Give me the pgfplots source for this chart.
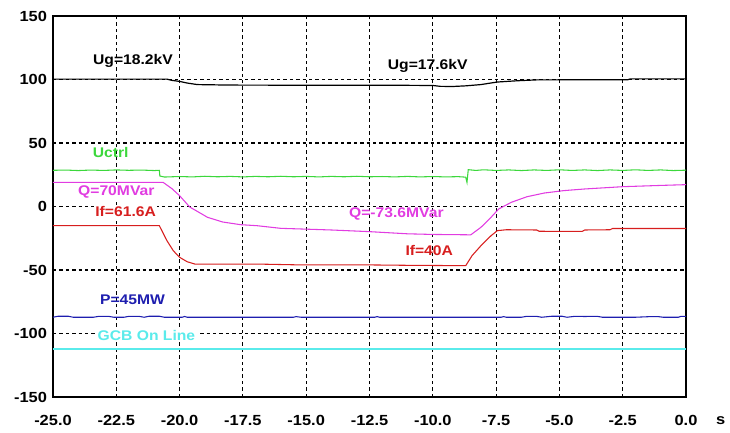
\documentclass[border=0pt]{standalone}
\usepackage{fontspec}
\setmainfont{Liberation Sans}[FakeStretch=1.12]
\usepackage{pgfplots}
\pgfplotsset{compat=1.18}
\definecolor{cgreen}{RGB}{60,215,60}
\definecolor{cmag}{RGB}{225,60,225}
\definecolor{cred}{RGB}{215,30,30}
\definecolor{cblue}{RGB}{30,30,175}
\definecolor{ccyan}{RGB}{90,235,235}
\begin{document}
\begin{tikzpicture}
\begin{axis}[
  name=ax,
  scale only axis,
  width=474.75pt, height=285.75pt,
  xmin=-25, xmax=0, ymin=-150, ymax=150,
  xtick={-25,-22.5,...,0}, ytick={-150,-100,...,150},
  /pgf/number format/assume math mode=true,
  ticklabel style={font=\bfseries\fontsize{11}{13}\selectfont, text=black},
  xticklabel style={yshift=-10pt, /pgf/number format/.cd, fixed, fixed zerofill, precision=1},
  yticklabel style={xshift=-1pt, /pgf/number format/.cd, fixed, precision=0},
  major tick length=0pt,
  grid=major,
  grid style={black, line width=0.8pt, dash pattern=on 2.6pt off 2.2pt},
  axis line style={line width=1.4pt},
  clip=false,
]
% Ug
\addplot[black, line width=0.9pt] coordinates {
(-25,100.3) (-22,100.3) (-20.5,100.3) (-20.3,99.3) (-20.0,98.5) (-19.7,97.2) (-19.3,96) (-18,95.6) (-15,95.5) (-12,95.5) (-10,95.3) (-9.7,94.6) (-9.2,94.5) (-8.7,95) (-8.1,96) (-7.46,98) (-6.67,99) (-5.9,99.7) (-2.3,99.8) (-2.2,100.5) (0,100.5)
};
% Uctrl
\addplot[cgreen, line width=0.8pt] coordinates {
(-25,28.5) (-24.5,28.7) (-24,28.3) (-23.5,28.7) (-23,28.4) (-22.5,28.8) (-22,28.5) (-21.5,28.7) (-21,28.3) (-20.8,28.5)
(-20.78,24) (-20.6,23.2) (-20,23.6) (-19.5,23.3) (-19,23.8) (-18.5,23.4) (-18,23.7) (-17.5,23.3) (-17,23.7) (-16.5,23.4) (-16,23.8) (-15.5,23.4) (-15,23.7) (-14.5,23.3) (-14,23.7) (-13.5,23.4) (-13,23.8) (-12.5,23.4) (-12,23.6) (-11.5,23.3) (-11,23.7) (-10.5,23.3) (-10,23.6) (-9.5,23.3) (-9,23.5) (-8.7,23.1)
(-8.65,19) (-8.6,29) (-8.3,28.4) (-8,28.9) (-7.5,28.4) (-7,28.8) (-6.5,28.3) (-6,28.8) (-5.5,28.4) (-5,28.9) (-4.5,28.4) (-4,28.8) (-3.5,28.3) (-3,28.8) (-2.5,28.4) (-2,28.9) (-1.5,28.4) (-1,28.8) (-0.5,28.3) (0,28.6)
};
% Q
\addplot[cmag, line width=0.8pt] coordinates {
(-25,19) (-20.65,19) (-20.3,14) (-20.0,8.5) (-19.6,-0.4) (-19.2,-5) (-18.9,-8.5) (-18.3,-12.2) (-17.6,-14.3) (-16.95,-15.1) (-16,-17.2) (-15.2,-17.7) (-14,-18.5) (-12.5,-19.8) (-11,-21.5) (-10,-22) (-8.5,-22.3) (-8.1,-16.4) (-7.7,-8.5) (-7.4,-2) (-6.9,3.3) (-6.28,7.7) (-5.6,10.6) (-4.83,12.5) (-4,13.8) (-2.5,15.6) (-1,16.6) (0,17.2)
};
% If
\addplot[cred, line width=0.8pt] coordinates {
(-25,-15.1) (-20.8,-15.1) (-20.5,-26.9) (-20.25,-34.8) (-20,-40) (-19.7,-43.5) (-19.4,-45.3) (-17,-45.3) (-15.2,-46) (-12.5,-46) (-11,-46.3) (-8.7,-46.6) (-8.45,-38.7) (-8.1,-30.9) (-7.7,-23) (-7.45,-19) (-7.1,-18.3) (-5.9,-18.5) (-5.8,-19.5) (-4.1,-19.6) (-4,-18.5) (-3.0,-18.3) (-2.9,-17.3) (0,-17.3)
};
% P
\addplot[cblue, line width=0.8pt] coordinates {
(-25,-87.2) (-24.8,-86.4) (-24.4,-86.4) (-24.2,-87.2) (-23.4,-87.2) (-23.2,-86.5) (-22.8,-86.5) (-22.6,-87.2) (-22.2,-87.2) (-22,-86.5) (-21.6,-86.5) (-21.4,-87.2) (-21.2,-86.4) (-20.8,-86.4) (-20.6,-87.2) (-19.9,-87.2) (-19.8,-86.6) (-19.7,-87.2)
(-15.5,-87.2) (-15.4,-86.7) (-15.2,-87.2) (-12.3,-87.2) (-12.2,-86.7) (-12.1,-87.2) (-9,-87.2) (-7.3,-87.2) (-7.2,-86.7) (-7.1,-87.2) (-6.5,-87.2) (-6.3,-86.5) (-5.9,-86.5) (-5.7,-87.2) (-5.3,-86.4) (-4.9,-86.4) (-4.7,-87.2) (-4.4,-86.5) (-4,-86.6) (-3.5,-86.5) (-3.3,-87.2) (-2,-87.2) (-1.4,-86.7) (-1.1,-86.7) (-0.9,-87.2) (-0.3,-87.2) (-0.2,-86.5) (0,-86.5)
};
% GCB
\addplot[ccyan, line width=1.6pt] coordinates {(-25,-112.2) (0,-112.2)};
\begin{scope}[font=\bfseries\fontsize{10.5}{12}\selectfont, inner sep=1pt]
\node[text=black] at (axis cs:-21.84,114.6) {Ug=18.2kV};
\node[text=black] at (axis cs:-10.2,110.4) {Ug=17.6kV};
\node[text=cgreen] at (axis cs:-22.72,42.7) {Uctrl};
\node[text=cmag, fill=white] at (axis cs:-22.5,11.2) {Q=70MVar};
\node[text=cred, fill=white] at (axis cs:-22.13,-4.1) {If=61.6A};
\node[text=cmag] at (axis cs:-11.44,-5.6) {Q=-73.6MVar};
\node[text=cred] at (axis cs:-10.14,-34.8) {If=40A};
\node[text=cblue] at (axis cs:-21.86,-73.4) {P=45MW};
\node[text=ccyan, fill=white] at (axis cs:-21.31,-101.7) {GCB On Line};
\node[font=\bfseries\fontsize{11}{13}\selectfont] at ([xshift=26pt, yshift=-17.5pt]rel axis cs:1,0) {s};
\end{scope}
\end{axis}
\path ([shift={(-39.75pt,-26.25pt)}]ax.south west) rectangle ([shift={(33pt,12pt)}]ax.north east);
\end{tikzpicture}
\end{document}
